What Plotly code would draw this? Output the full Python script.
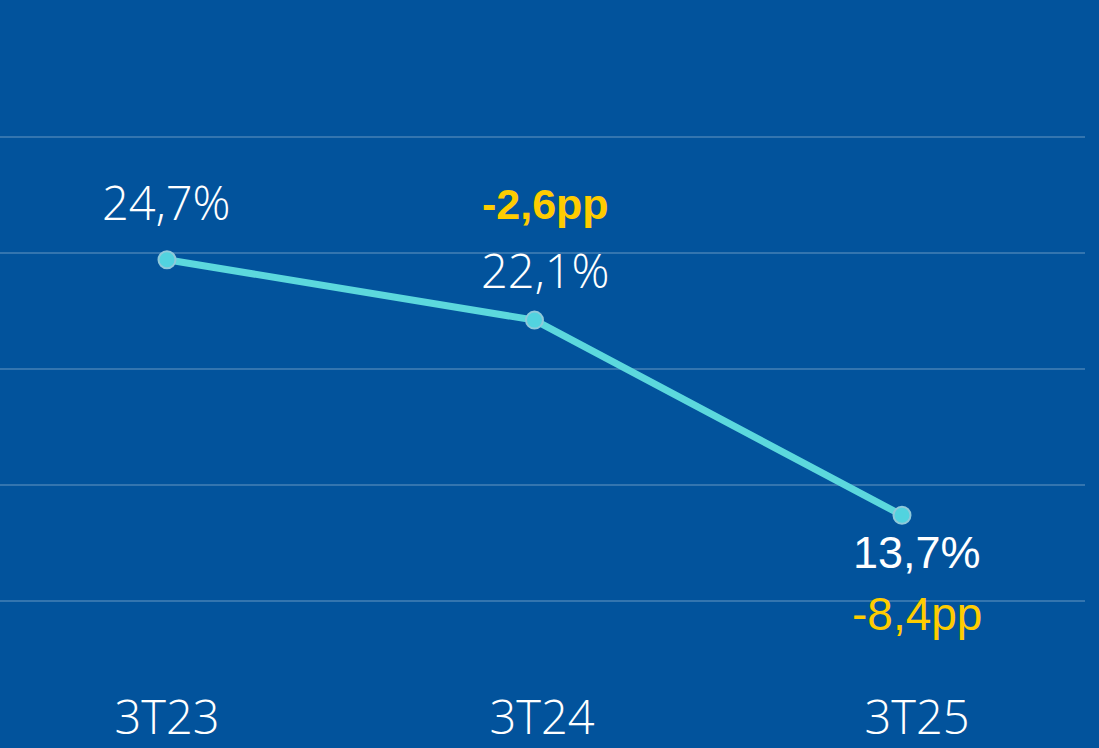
import plotly.graph_objects as go

categories = ["3T23", "3T24", "3T25"]
values = [24.7, 22.1, 13.7]
value_labels = ["24,7%", "22,1%", "13,7%"]
delta_labels = [None, "-2,6pp", "-8,4pp"]
grid_vals = [10, 15, 20, 25, 30]

BG = "#02539C"
YELLOW = "#FFCC00"
LINE = "#5CD8DD"

fig = go.Figure()
fig.add_trace(go.Scatter(
    x=categories, y=values, mode="lines+markers",
    line=dict(color=LINE, width=7),
    marker=dict(size=17, color="#52D3DF", line=dict(color="#8FC9DA", width=2)),
    hoverinfo="skip", showlegend=False,
))
# invisible trace on the label axis
fig.add_trace(go.Scatter(
    x=categories, y=values, mode="markers", xaxis="x2",
    marker=dict(opacity=0), hoverinfo="skip", showlegend=False,
))

light = dict(family="Open Sans", size=47, color="white", weight=300)
reg_white = dict(family="Liberation Sans, Arial", size=45, color="white")
bold_yel = dict(family="Liberation Sans, Arial", size=43, color=YELLOW, weight="bold")
reg_yel = dict(family="Liberation Sans, Arial", size=46, color=YELLOW)

# value labels
fig.add_annotation(x=categories[0], y=values[0], xref="x2", yref="y",
                   text=value_labels[0], showarrow=False, font=light, yshift=58)
fig.add_annotation(x=categories[1], y=values[1], xref="x2", yref="y",
                   text=value_labels[1], showarrow=False, font=light, yshift=50, xshift=4)
fig.add_annotation(x=categories[1], y=values[1], xref="x2", yref="y",
                   text=delta_labels[1], showarrow=False, font=bold_yel, yshift=116, xshift=4)
fig.add_annotation(x=categories[2], y=values[2], xref="x2", yref="y",
                   text=value_labels[2], showarrow=False, font=reg_white, yshift=-37)
fig.add_annotation(x=categories[2], y=values[2], xref="x2", yref="y",
                   text=delta_labels[2], showarrow=False, font=reg_yel, yshift=-99)

fig.update_layout(
    width=1099, height=748,
    paper_bgcolor=BG, plot_bgcolor=BG,
    margin=dict(l=0, r=14, t=0, b=60),
    xaxis=dict(type="category", range=[-0.4544, 2.498], showgrid=False,
               zeroline=False, showticklabels=False, showline=False),
    xaxis2=dict(type="category", overlaying="x", side="bottom",
                range=[-0.4453, 2.448], showgrid=False, zeroline=False,
                showline=False, ticks="",
                tickfont=dict(family="Open Sans", size=47, color="white", weight=300)),
    yaxis=dict(range=[6.35, 35.88], tickvals=grid_vals, showticklabels=False,
               gridcolor="rgba(255,255,255,0.2)", gridwidth=2, zeroline=False,
               showline=False),
)

fig.write_html("out.html",
               config={"displayModeBar": False},
               post_script="document.body.style.margin='0';document.body.style.background='%s';" % BG)
